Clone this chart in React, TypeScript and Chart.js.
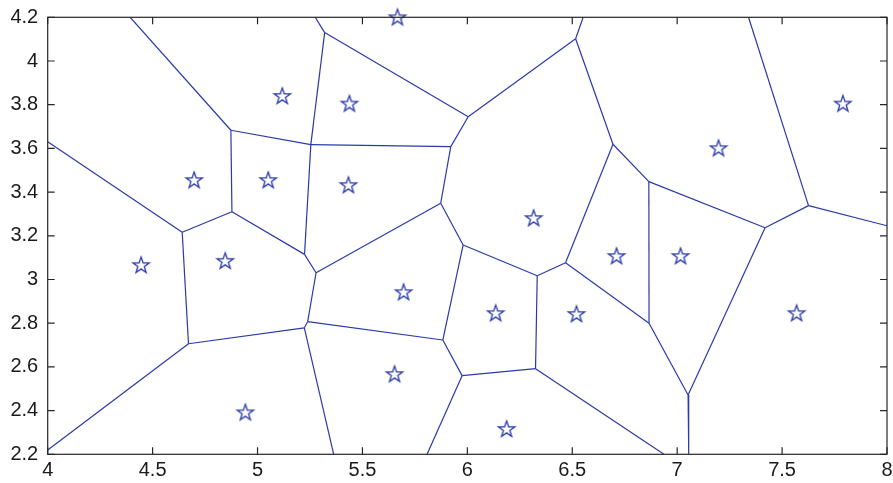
import React, { useEffect, useRef } from "react";
import { Chart, registerables } from "chart.js";

Chart.register(...registerables);

// Generator sites (stars)
const siteX = [4.445, 4.698, 4.846, 4.942, 5.051, 5.118, 5.438, 5.433, 5.667, 5.696, 5.653, 6.135, 6.187, 6.316, 6.52, 6.711, 7.016, 7.197, 7.569, 7.79];
const siteY = [3.066, 3.455, 3.085, 2.392, 3.455, 3.84, 3.805, 3.432, 4.2, 2.942, 2.567, 2.846, 2.316, 3.281, 2.842, 3.107, 3.107, 3.601, 2.846, 3.805];

// Voronoi vertices
const vertexX = [4.0, 4.641, 4.873, 4.878, 4.393, 5.254, 5.224, 5.279, 5.873, 5.239, 5.223, 4.671, 4.0, 5.363, 5.883, 5.98, 5.975, 5.808, 6.325, 6.333, 6.468, 6.694, 6.866, 6.937, 6.865, 6.516, 6.552, 6.004, 5.921, 5.32, 5.275, 7.419, 7.626, 8.0, 7.34, 7.052, 7.055];
const vertexY = [3.63, 3.216, 3.683, 3.31, 4.2, 3.617, 3.115, 3.031, 3.349, 2.807, 2.779, 2.706, 2.22, 2.2, 2.723, 3.158, 2.56, 2.2, 2.592, 3.017, 3.077, 3.619, 2.8, 2.2, 3.448, 4.102, 4.2, 3.745, 3.608, 4.13, 4.2, 3.237, 3.338, 3.246, 4.2, 2.471, 2.2];

// Voronoi edges as vertex index pairs
const edgeFrom = [0, 1, 1, 2, 2, 2, 3, 5, 5, 5, 6, 7, 7, 9, 10, 11, 10, 9, 8, 14, 14, 16, 16, 18, 19, 19, 20, 20, 18, 22, 21, 21, 25, 25, 27, 28, 27, 29, 24, 31, 32, 32, 31, 22, 35];
const edgeTo = [1, 3, 11, 3, 4, 5, 6, 29, 28, 6, 7, 8, 9, 10, 11, 12, 13, 14, 15, 15, 16, 17, 18, 19, 15, 20, 21, 22, 23, 24, 24, 25, 26, 27, 28, 8, 29, 30, 31, 32, 33, 34, 35, 35, 36];

const xTicks = [4, 4.5, 5, 5.5, 6, 6.5, 7, 7.5, 8];
const yTicks = [2.2, 2.4, 2.6, 2.8, 3, 3.2, 3.4, 3.6, 3.8, 4, 4.2];

const BLUE = "#2a3aa8";
const AXIS = "#262626";
const FONT = "'Liberation Sans', Arial, Helvetica, sans-serif";

function makeStar(): HTMLCanvasElement {
  const c = document.createElement("canvas");
  c.width = 22;
  c.height = 22;
  const g = c.getContext("2d")!;
  const cx = 11, cy = 11.5, R = 8.6, r = 3.4;
  g.beginPath();
  for (let i = 0; i < 10; i++) {
    const rad = i % 2 === 0 ? R : r;
    const a = -Math.PI / 2 + (i * Math.PI) / 5;
    const px = cx + rad * Math.cos(a);
    const py = cy + rad * Math.sin(a);
    if (i === 0) g.moveTo(px, py);
    else g.lineTo(px, py);
  }
  g.closePath();
  g.strokeStyle = BLUE;
  g.lineWidth = 1.3;
  g.stroke();
  return c;
}

const frameAndTicks = {
  id: "frameAndTicks",
  afterDatasetsDraw(chart: any) {
    const { ctx, chartArea: a, scales } = chart;
    const L = 7;
    ctx.save();
    ctx.strokeStyle = AXIS;
    ctx.lineWidth = 1.2;
    ctx.strokeRect(a.left, a.top, a.right - a.left, a.bottom - a.top);
    ctx.beginPath();
    for (const v of xTicks) {
      const px = scales.x.getPixelForValue(v);
      ctx.moveTo(px, a.bottom);
      ctx.lineTo(px, a.bottom - L);
      ctx.moveTo(px, a.top);
      ctx.lineTo(px, a.top + L);
    }
    for (const v of yTicks) {
      const py = scales.y.getPixelForValue(v);
      ctx.moveTo(a.left, py);
      ctx.lineTo(a.left + L, py);
      ctx.moveTo(a.right, py);
      ctx.lineTo(a.right - L, py);
    }
    ctx.stroke();
    ctx.restore();
  },
};

export default function App() {
  const ref = useRef<HTMLCanvasElement>(null);
  useEffect(() => {
    document.body.style.margin = "0";
    const star = makeStar();
    const datasets: any[] = edgeFrom.map((f, i) => ({
      type: "line",
      data: [
        { x: vertexX[f], y: vertexY[f] },
        { x: vertexX[edgeTo[i]], y: vertexY[edgeTo[i]] },
      ],
      borderColor: BLUE,
      borderWidth: 1.2,
      pointRadius: 0,
      showLine: true,
      fill: false,
      tension: 0,
    }));
    datasets.push({
      type: "scatter",
      data: siteX.map((x, i) => ({ x, y: siteY[i] })),
      pointStyle: star,
      pointRadius: 9,
      showLine: false,
      clip: false,
    });
    const chart = new Chart(ref.current!, {
      type: "scatter",
      data: { datasets },
      options: {
        animation: false,
        responsive: false,
        events: [],
        layout: { autoPadding: false, padding: { top: 17.3, right: 6, left: 0, bottom: 0 } },
        plugins: { legend: { display: false }, tooltip: { enabled: false } },
        scales: {
          x: {
            type: "linear",
            min: 4,
            max: 8,
            grid: { display: false, drawTicks: false },
            border: { display: false },
            afterBuildTicks: (s: any) => {
              s.ticks = xTicks.map((v) => ({ value: v }));
            },
            afterFit: (s: any) => {
              s.height = 28.7;
              s.paddingLeft = 0;
              s.paddingRight = 0;
            },
            ticks: {
              padding: 4,
              color: "#1a1a1a",
              font: { family: FONT, size: 20 },
              maxRotation: 0,
              callback: (v: any) => String(v),
            },
          },
          y: {
            type: "linear",
            min: 2.2,
            max: 4.2,
            grid: { display: false, drawTicks: false },
            border: { display: false },
            afterBuildTicks: (s: any) => {
              s.ticks = yTicks.map((v) => ({ value: v }));
            },
            afterFit: (s: any) => {
              s.width = 47.7;
              s.paddingTop = 0;
              s.paddingBottom = 0;
            },
            ticks: {
              padding: 9.5,
              color: "#1a1a1a",
              font: { family: FONT, size: 20 },
              callback: (v: any) => String(Math.round(v * 10) / 10),
            },
          },
        },
      },
      plugins: [frameAndTicks],
    });
    return () => chart.destroy();
  }, []);
  return <canvas ref={ref} width={893} height={483} style={{ display: "block" }} />;
}
